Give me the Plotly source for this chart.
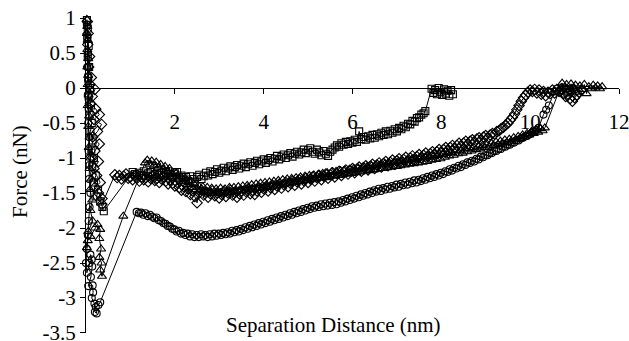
import plotly.graph_objects as go

# ---------------- data ----------------
sq_x = [0.02, 0.04, 0.03, 0.06, 0.04, 0.07, 0.05, 0.09, 0.06, 0.11, 0.08, 0.13, 0.10, 0.15, 0.12, 0.18, 0.14, 0.22,
        0.18, 0.27, 0.24, 0.32, 0.37, 0.40,
        1.05, 1.10, 1.15, 1.20, 1.25, 1.30, 1.35, 1.40, 1.45, 1.50, 1.55, 1.60, 1.65, 1.70, 1.75, 1.80, 1.85,
        1.90, 1.95, 2.00, 2.05, 2.10, 2.15, 2.20, 2.25, 2.30, 2.35, 2.40, 2.45, 2.50, 2.55, 2.60, 2.65, 2.70,
        2.75, 2.80, 2.85, 2.90, 2.95, 3.00, 3.05, 3.10, 3.15, 3.20, 3.25, 3.30, 3.35, 3.40, 3.45, 3.50, 3.55,
        3.60, 3.65, 3.70, 3.75, 3.80, 3.85, 3.90, 3.95, 4.00, 4.05, 4.10, 4.15, 4.20, 4.25, 4.30, 4.35, 4.40,
        4.45, 4.50, 4.55, 4.60, 4.65, 4.70, 4.75, 4.80, 4.85, 4.90, 4.95, 5.00, 5.05, 5.10, 5.15, 5.20, 5.25,
        5.30, 5.35, 5.40, 5.45, 5.50, 5.55, 5.60, 5.65, 5.70, 5.75, 5.80, 5.85, 5.90, 5.95, 6.00, 6.05, 6.10,
        6.15, 6.20, 6.25, 6.30, 6.35, 6.40, 6.45, 6.50, 6.55, 6.60, 6.65, 6.70, 6.75, 6.80, 6.85, 6.90, 6.95,
        7.00, 7.05, 7.10, 7.15, 7.20, 7.25, 7.30, 7.35, 7.40, 7.45, 7.50, 7.55, 7.60, 7.64,
        7.78, 7.82, 7.86, 7.90, 7.94, 7.98, 8.02, 8.06, 8.10, 8.14, 8.18, 8.22, 8.26]
sq_y = [0.97, 0.85, 0.72, 0.60, 0.45, 0.30, 0.15, 0.00, -0.12, -0.25, -0.38, -0.50, -0.62, -0.75, -0.88, -1.00, -1.12, -1.25,
        -1.35, -1.45, -1.55, -1.62, -1.70, -1.76,
        -1.20, -1.23, -1.25, -1.21, -1.24, -1.19, -1.26, -1.22, -1.20, -1.25, -1.23, -1.18, -1.24, -1.21, -1.26, -1.22, -1.19,
        -1.25, -1.27, -1.22, -1.20, -1.28, -1.25, -1.31, -1.27, -1.33, -1.26, -1.30, -1.34, -1.27, -1.24, -1.30, -1.26, -1.21,
        -1.25, -1.19, -1.23, -1.20, -1.16, -1.21, -1.18, -1.14, -1.19, -1.15, -1.12, -1.17, -1.13, -1.10, -1.15, -1.11, -1.08,
        -1.13, -1.09, -1.06, -1.11, -1.07, -1.04, -1.09, -1.05, -1.02, -1.07, -1.03, -1.00, -1.05, -1.01, -0.97, -1.02, -0.98,
        -0.95, -1.00, -0.96, -0.93, -0.98, -0.94, -0.91, -0.95, -0.92, -0.88, -0.93, -0.89, -0.86, -0.91, -0.94, -0.88, -0.92,
        -0.96, -0.90, -0.94, -0.97, -0.91, -0.88, -0.85, -0.82, -0.84, -0.79, -0.81, -0.77, -0.80, -0.76, -0.78, -0.74, -0.77,
        -0.62, -0.73, -0.70, -0.74, -0.69, -0.72, -0.67, -0.71, -0.66, -0.69, -0.64, -0.67, -0.62, -0.66, -0.61, -0.64, -0.59,
        -0.62, -0.57, -0.59, -0.54, -0.56, -0.51, -0.52, -0.47, -0.48, -0.43, -0.42, -0.38, -0.36, -0.33,
        -0.01, -0.07, -0.03, -0.09, 0.00, -0.06, -0.10, -0.02, -0.08, -0.04, -0.11, -0.03, -0.09]

di_x = [0.03, 0.05, 0.04, 0.08, 0.06, 0.12, 0.09, 0.20, 0.14, 0.10, 0.22, 0.30, 0.18, 0.35, 0.26, 0.15, 0.30, 0.20,
        0.12, 0.28, 0.18, 0.24, 0.32, 0.20, 0.28, 0.36, 0.36,
        0.65, 0.70, 0.75, 0.80, 0.85, 0.90, 0.95, 1.00, 1.05, 1.10, 1.15, 1.20, 1.25, 1.30, 1.35, 1.40, 1.45,
        1.50, 1.55, 1.60, 1.65, 1.70, 1.75, 1.80, 1.85, 1.90, 1.95, 2.00, 2.05, 2.10, 2.15, 2.20, 2.25, 2.30,
        2.35, 2.40, 2.45, 2.50, 2.55, 2.60, 2.65, 2.70, 2.75, 2.80, 2.85, 2.90, 2.95, 3.00, 3.05, 3.10, 3.15,
        3.20, 3.25, 3.30, 3.35, 3.40, 3.45, 3.50, 3.55, 3.60, 3.65, 3.70, 3.75, 3.80, 3.85, 3.90, 3.95, 4.00,
        4.05, 4.10, 4.15, 4.20, 4.25, 4.30, 4.35, 4.40, 4.45, 4.50, 4.55, 4.60, 4.65, 4.70, 4.75, 4.80, 4.85,
        4.90, 4.95, 5.00, 5.05, 5.10, 5.15, 5.20, 5.25, 5.30, 5.35, 5.40, 5.45, 5.50, 5.55, 5.60, 5.65, 5.70,
        5.75, 5.80, 5.85, 5.90, 5.95, 6.00, 6.05, 6.10, 6.15, 6.20, 6.25, 6.30, 6.35, 6.40, 6.45, 6.50, 6.55,
        6.60, 6.65, 6.70, 6.75, 6.80, 6.85, 6.90, 6.95, 7.00, 7.05, 7.10, 7.15, 7.20, 7.25, 7.30, 7.35, 7.40,
        7.45, 7.50, 7.55, 7.60, 7.65, 7.70, 7.75, 7.80, 7.85, 7.90, 7.95, 8.00, 8.05, 8.10, 8.15, 8.20, 8.25,
        8.30, 8.35, 8.40, 8.45, 8.50, 8.55, 8.60, 8.65, 8.70, 8.75, 8.80, 8.85, 8.90, 8.95, 9.00, 9.05, 9.10,
        9.15, 9.20, 9.25, 9.30, 9.35, 9.40, 9.45, 9.50, 9.55, 9.60, 9.65, 9.70, 9.75, 9.80, 9.85, 9.90, 9.95,
        10.00, 10.05, 10.10, 10.15, 10.20, 10.25, 10.30, 10.35, 10.40, 10.45, 10.50, 10.55, 10.60, 10.65,
        10.70, 10.75, 10.80, 10.85, 10.90, 10.95, 11.00, 11.05, 11.10, 11.15]
di_y = [0.95, 0.78, 0.62, 0.45, 0.30, 0.15, 0.05, -0.02, -0.12, -0.22, -0.30, -0.38, -0.45, -0.52, -0.62, -0.70, -0.80, -0.90,
        -0.98, -1.05, -1.15, -1.25, -1.35, -1.42, -1.50, -1.58, -1.66,
        -1.24, -1.28, -1.25, -1.30, -1.26, -1.23, -1.29, -1.27, -1.31, -1.25, -1.29, -1.33, -1.27, -1.31, -1.28, -1.34, -1.29,
        -1.26, -1.32, -1.29, -1.35, -1.30, -1.27, -1.33, -1.37, -1.31, -1.36, -1.40, -1.35, -1.42, -1.46, -1.41, -1.48, -1.44,
        -1.52, -1.47, -1.55, -1.64, -1.50, -1.46, -1.53, -1.49, -1.56, -1.51, -1.47, -1.54, -1.50, -1.57, -1.52, -1.48, -1.55,
        -1.50, -1.46, -1.53, -1.49, -1.56, -1.51, -1.47, -1.53, -1.48, -1.44, -1.51, -1.46, -1.52, -1.47, -1.43, -1.49, -1.44,
        -1.41, -1.47, -1.42, -1.39, -1.45, -1.40, -1.37, -1.43, -1.38, -1.35, -1.41, -1.36, -1.33, -1.39, -1.34, -1.31, -1.37,
        -1.32, -1.29, -1.35, -1.30, -1.27, -1.33, -1.28, -1.25, -1.31, -1.26, -1.23, -1.29, -1.24, -1.21, -1.27, -1.22, -1.19,
        -1.25, -1.20, -1.17, -1.23, -1.18, -1.15, -1.21, -1.16, -1.13, -1.19, -1.14, -1.11, -1.17, -1.12, -1.09, -1.15, -1.10,
        -1.07, -1.13, -1.08, -1.05, -1.11, -1.06, -1.03, -1.09, -1.04, -1.01, -1.07, -1.02, -0.99, -1.05, -1.00, -0.97, -1.03,
        -0.98, -0.95, -1.00, -0.96, -0.93, -0.98, -0.94, -0.91, -0.95, -0.91, -0.88, -0.92, -0.88, -0.85, -0.89, -0.85, -0.82,
        -0.86, -0.82, -0.79, -0.83, -0.79, -0.76, -0.80, -0.76, -0.74, -0.77, -0.73, -0.71, -0.74, -0.70, -0.68, -0.71, -0.67,
        -0.65, -0.66, -0.62, -0.61, -0.58, -0.56, -0.53, -0.50, -0.46, -0.42, -0.37, -0.31, -0.25, -0.19, -0.14, -0.10, -0.06,
        -0.03, -0.05, -0.02, -0.07, -0.03, -0.09, -0.05, -0.11, -0.06, -0.08, -0.03, -0.07, -0.02, -0.05,
        -0.01, -0.08, -0.12, -0.09, -0.15, -0.19, -0.14, -0.10, -0.06, -0.03]

tr_x = [0.02, 0.03, 0.02, 0.04, 0.03, 0.05, 0.03, 0.05, 0.04, 0.06, 0.04, 0.07, 0.05, 0.08, 0.06, 0.10, 0.08, 0.12,
        0.09, 0.14, 0.10, 0.15, 0.05, 0.02, 0.04, 0.10, 0.20, 0.26, 0.32, 0.30, 0.34, 0.30, 0.35, 0.32, 0.36, 0.84,
        1.33, 1.38, 1.43, 1.48, 1.53, 1.58, 1.63, 1.68, 1.73, 1.78, 1.83, 1.88, 1.93, 1.98, 2.03, 2.08, 2.13,
        2.18, 2.23, 2.28, 2.33, 2.38, 2.43, 2.48, 2.53, 2.58, 2.63, 2.68, 2.73, 2.78, 2.83, 2.88, 2.93, 2.98,
        3.03, 3.08, 3.13, 3.18, 3.23, 3.28, 3.33, 3.38, 3.43, 3.48, 3.53, 3.58, 3.63, 3.68, 3.73, 3.78, 3.83,
        3.88, 3.93, 3.98, 4.03, 4.08, 4.13, 4.18, 4.23, 4.28, 4.33, 4.38, 4.43, 4.48, 4.53, 4.58, 4.63, 4.68,
        4.73, 4.78, 4.83, 4.88, 4.93, 4.98, 5.03, 5.08, 5.13, 5.18, 5.23, 5.28, 5.33, 5.38, 5.43, 5.48, 5.53,
        5.58, 5.63, 5.68, 5.73, 5.78, 5.83, 5.88, 5.93, 5.98, 6.03, 6.08, 6.13, 6.18, 6.23, 6.28, 6.33, 6.38,
        6.43, 6.48, 6.53, 6.58, 6.63, 6.68, 6.73, 6.78, 6.83, 6.88, 6.93, 6.98, 7.03, 7.08, 7.13, 7.18, 7.23,
        7.28, 7.33, 7.38, 7.43, 7.48, 7.53, 7.58, 7.63, 7.68, 7.73, 7.78, 7.83, 7.88, 7.93, 7.98, 8.03, 8.08,
        8.13, 8.18, 8.23, 8.28, 8.33, 8.38, 8.43, 8.48, 8.53, 8.58, 8.63, 8.68, 8.73, 8.78, 8.83, 8.88, 8.93,
        8.98, 9.03, 9.08, 9.13, 9.18, 9.23, 9.28, 9.33, 9.38, 9.43, 9.48, 9.53, 9.58, 9.63, 9.68, 9.73, 9.78,
        9.83, 9.88, 9.93, 9.98, 10.03, 10.08, 10.13, 10.18, 10.23, 10.28, 10.33,
        10.72, 10.77, 10.82, 10.87, 10.92, 10.97, 11.02, 11.07, 11.12, 11.17, 11.22, 11.27, 11.32, 11.37,
        11.42, 11.47, 11.52, 11.57, 11.62]
tr_y = [0.98, 0.88, 0.78, 0.68, 0.55, 0.42, 0.30, 0.18, 0.05, -0.10, -0.25, -0.40, -0.55, -0.70, -0.85, -1.00, -1.15, -1.30,
        -1.45, -1.60, -1.75, -1.90, -2.05, -2.28, -2.18, -2.12, -2.00, -1.95, -2.02, -2.15, -2.30, -2.42, -2.50, -2.60, -2.69, -1.83,
        -1.07, -1.03, -1.09, -1.04, -1.11, -1.06, -1.13, -1.09, -1.16, -1.12, -1.19, -1.15, -1.23, -1.27, -1.22, -1.30, -1.26,
        -1.34, -1.29, -1.38, -1.33, -1.42, -1.37, -1.45, -1.39, -1.47, -1.41, -1.49, -1.42, -1.50, -1.43, -1.51, -1.44, -1.50,
        -1.43, -1.51, -1.44, -1.50, -1.42, -1.49, -1.42, -1.48, -1.41, -1.47, -1.40, -1.46, -1.39, -1.45, -1.38, -1.45, -1.37,
        -1.44, -1.36, -1.43, -1.35, -1.42, -1.34, -1.41, -1.33, -1.40, -1.32, -1.39, -1.31, -1.37, -1.30, -1.36, -1.29, -1.35,
        -1.28, -1.34, -1.27, -1.33, -1.26, -1.32, -1.25, -1.31, -1.24, -1.30, -1.23, -1.29, -1.22, -1.28, -1.21, -1.27, -1.20,
        -1.26, -1.19, -1.25, -1.18, -1.24, -1.17, -1.23, -1.16, -1.22, -1.15, -1.21, -1.14, -1.20, -1.13, -1.19, -1.12, -1.18,
        -1.11, -1.17, -1.10, -1.16, -1.09, -1.15, -1.08, -1.14, -1.07, -1.13, -1.06, -1.12, -1.05, -1.11, -1.04, -1.10, -1.03,
        -1.09, -1.02, -1.08, -1.01, -1.07, -1.00, -1.06, -0.99, -1.05, -0.98, -1.03, -0.97, -1.02, -0.96, -1.01, -0.95, -0.99,
        -0.93, -0.97, -0.92, -0.96, -0.90, -0.94, -0.89, -0.93, -0.87, -0.91, -0.86, -0.90, -0.85, -0.88, -0.83, -0.87, -0.82,
        -0.85, -0.80, -0.84, -0.79, -0.82, -0.77, -0.81, -0.76, -0.79, -0.74, -0.78, -0.73, -0.76, -0.71, -0.74, -0.69, -0.72,
        -0.67, -0.70, -0.65, -0.67, -0.62, -0.65, -0.60, -0.63, -0.58, -0.61, -0.57,
        0.07, 0.01, 0.05, -0.02, 0.06, 0.00, 0.04, -0.06, 0.03, -0.02, 0.05, -0.08, 0.02, -0.01,
        0.04, 0.00, 0.03, -0.01, 0.02]

ci_x = [0.02, 0.03, 0.04, 0.03, 0.05, 0.04, 0.06, 0.05, 0.07, 0.06, 0.08, 0.07, 0.10, 0.08, 0.06, 0.04, 0.02, 0.00,
        0.02, 0.08, 0.13, 0.10, 0.14, 0.11, 0.05, 0.15, 0.16, 0.13, 0.19, 0.20, 0.24, 0.22, 0.28, 0.32,
        1.14, 1.19, 1.24, 1.29, 1.34, 1.39, 1.44, 1.49, 1.54, 1.59, 1.64, 1.69, 1.74, 1.79, 1.84, 1.89, 1.94,
        1.99, 2.04, 2.09, 2.14, 2.19, 2.24, 2.29, 2.34, 2.39, 2.44, 2.49, 2.54, 2.59, 2.64, 2.69, 2.74, 2.79,
        2.84, 2.89, 2.94, 2.99, 3.04, 3.09, 3.14, 3.19, 3.24, 3.29, 3.34, 3.39, 3.44, 3.49, 3.54, 3.59, 3.64,
        3.69, 3.74, 3.79, 3.84, 3.89, 3.94, 3.99, 4.04, 4.09, 4.14, 4.19, 4.24, 4.29, 4.34, 4.39, 4.44, 4.49,
        4.54, 4.59, 4.64, 4.69, 4.74, 4.79, 4.84, 4.89, 4.94, 4.99, 5.04, 5.09, 5.14, 5.19, 5.24, 5.29, 5.34,
        5.39, 5.44, 5.49, 5.54, 5.59, 5.64, 5.69, 5.74, 5.79, 5.84, 5.89, 5.94, 5.99, 6.04, 6.09, 6.14, 6.19,
        6.24, 6.29, 6.34, 6.39, 6.44, 6.49, 6.54, 6.59, 6.64, 6.69, 6.74, 6.79, 6.84, 6.89, 6.94, 6.99, 7.04,
        7.09, 7.14, 7.19, 7.24, 7.29, 7.34, 7.39, 7.44, 7.49, 7.54, 7.59, 7.64, 7.69, 7.74, 7.79, 7.84, 7.89,
        7.94, 7.99, 8.04, 8.09, 8.14, 8.19, 8.24, 8.29, 8.34, 8.39, 8.44, 8.49, 8.54, 8.59, 8.64, 8.69, 8.74,
        8.79, 8.84, 8.89, 8.94, 8.99, 9.04, 9.09, 9.14, 9.19, 9.24, 9.29, 9.34, 9.39, 9.44, 9.49, 9.54, 9.59,
        9.64, 9.69, 9.74, 9.79, 9.84, 9.89, 9.94, 9.99, 10.04, 10.09, 10.14, 10.19,
        10.30, 10.36, 10.42, 10.55, 10.60, 10.65, 10.70, 10.75, 10.80, 10.85, 10.90, 10.95, 11.00]
ci_y = [0.90, 0.72, 0.50, 0.30, 0.10, -0.10, -0.30, -0.50, -0.70, -0.90, -1.10, -1.30, -1.50, -1.70, -1.90, -2.10, -2.30, -2.50,
        -2.64, -2.50, -2.45, -2.38, -2.55, -2.70, -2.83, -2.82, -2.92, -3.00, -3.08, -3.20, -3.22, -3.13, -3.10, -3.06,
        -1.77, -1.79, -1.78, -1.81, -1.79, -1.83, -1.81, -1.84, -1.86, -1.85, -1.89, -1.90, -1.93, -1.94, -1.97, -1.98, -2.01,
        -2.02, -2.05, -2.04, -2.08, -2.07, -2.10, -2.08, -2.12, -2.09, -2.13, -2.10, -2.13, -2.09, -2.12, -2.10, -2.13, -2.09,
        -2.12, -2.08, -2.11, -2.08, -2.10, -2.07, -2.09, -2.06, -2.08, -2.04, -2.06, -2.03, -2.05, -2.01, -2.03, -1.99, -2.01,
        -1.97, -1.99, -1.95, -1.97, -1.93, -1.95, -1.91, -1.93, -1.89, -1.91, -1.87, -1.89, -1.85, -1.87, -1.83, -1.85, -1.81,
        -1.83, -1.79, -1.81, -1.77, -1.79, -1.75, -1.77, -1.73, -1.75, -1.71, -1.73, -1.69, -1.71, -1.68, -1.70, -1.66, -1.69,
        -1.65, -1.68, -1.64, -1.67, -1.63, -1.66, -1.62, -1.64, -1.60, -1.62, -1.58, -1.60, -1.56, -1.58, -1.54, -1.56, -1.52,
        -1.54, -1.50, -1.52, -1.48, -1.50, -1.46, -1.48, -1.44, -1.47, -1.43, -1.45, -1.41, -1.44, -1.40, -1.42, -1.38, -1.41,
        -1.37, -1.39, -1.35, -1.38, -1.34, -1.36, -1.32, -1.35, -1.31, -1.33, -1.29, -1.31, -1.27, -1.29, -1.25, -1.27, -1.23,
        -1.25, -1.21, -1.23, -1.19, -1.20, -1.16, -1.18, -1.14, -1.15, -1.11, -1.13, -1.09, -1.10, -1.06, -1.07, -1.04, -1.05,
        -1.01, -1.02, -0.98, -0.99, -0.96, -0.96, -0.93, -0.93, -0.90, -0.90, -0.87, -0.87, -0.84, -0.84, -0.81, -0.81, -0.78,
        -0.78, -0.75, -0.75, -0.72, -0.71, -0.69, -0.68, -0.66, -0.64, -0.62, -0.60, -0.57,
        -0.38, -0.31, -0.25, -0.05, -0.01, -0.06, -0.03, -0.08, -0.02, -0.06, -0.03, -0.07, -0.02]

x_ticks = [2, 4, 6, 8, 10, 12]
x_tick_text = ["2", "4", "6", "8", "10", "12"]
y_ticks = [1, 0.5, 0, -0.5, -1, -1.5, -2, -2.5, -3, -3.5]
y_tick_text = ["1", "0.5", "0", "-0.5", "-1", "-1.5", "-2", "-2.5", "-3", "-3.5"]

# ---------------- figure ----------------
FONT = "Liberation Serif"
fig = go.Figure()

series = [
    (ci_x, ci_y, "circle-open", 7),
    (tr_x, tr_y, "triangle-up-open", 8),
    (di_x, di_y, "diamond-open", 8),
    (sq_x, sq_y, "square-open", 7),
]
for xs, ys, sym, size in series:
    fig.add_trace(go.Scatter(
        x=xs, y=ys, mode="lines+markers",
        line=dict(color="black", width=1),
        marker=dict(symbol=sym, size=size, color="black", line=dict(color="black", width=1.1)),
        cliponaxis=False, showlegend=False,
    ))

fig.update_layout(
    width=629, height=341,
    margin=dict(l=86, r=10, t=18, b=8, autoexpand=False),
    paper_bgcolor="white", plot_bgcolor="white",
    font=dict(family=FONT, size=21, color="black"),
    xaxis=dict(
        range=[0, 12.0001], anchor="free", position=3.5 / 4.5,
        showline=True, linecolor="black", linewidth=1,
        ticks="outside", ticklen=5, tickcolor="black",
        tickvals=x_ticks, ticktext=x_tick_text,
        showgrid=False, zeroline=False, ticklabelstandoff=10,
        ticklabeloverflow="allow", automargin=False,
        tickfont=dict(family=FONT, size=21, color="black"),
    ),
    yaxis=dict(
        range=[-3.5001, 1.0001],
        showline=True, linecolor="black", linewidth=1,
        ticks="outside", ticklen=5, tickcolor="black",
        tickvals=y_ticks, ticktext=y_tick_text,
        showgrid=False, zeroline=False,
        ticklabeloverflow="allow", automargin=False,
        tickfont=dict(family=FONT, size=21, color="black"),
    ),
    annotations=[
        dict(text="Separation Distance (nm)", xref="paper", yref="paper",
             x=(333 - 86) / 533, y=(333.5 - 325) / 315, xanchor="center", yanchor="middle",
             showarrow=False, font=dict(family=FONT, size=21, color="black")),
        dict(text="Force (nN)", xref="paper", yref="paper", textangle=-90,
             x=(20 - 86) / 533, y=(333.5 - 172.5) / 315, xanchor="center", yanchor="middle",
             showarrow=False, font=dict(family=FONT, size=21, color="black")),
    ],
)

fig.write_html("out.html")
